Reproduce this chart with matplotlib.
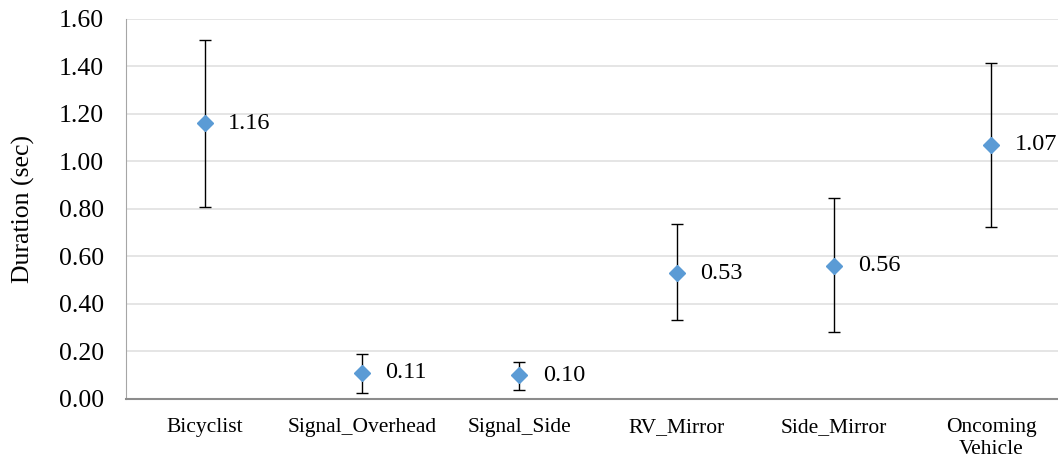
import numpy as np
import matplotlib.pyplot as plt

# Données
categories = ["Bicyclist", "Signal_Overhead", "Signal_Side", "RV_Mirror", "Side_Mirror", "Oncoming\nVehicle"]
means = [1.16, 0.11, 0.10, 0.53, 0.56, 1.07]
upper = [1.51, 0.19, 0.155, 0.735, 0.845, 1.415]
lower = [0.81, 0.025, 0.038, 0.333, 0.282, 0.724]
yticks = [0.0, 0.2, 0.4, 0.6, 0.8, 1.0, 1.2, 1.4, 1.6]

plt.rcParams['font.family'] = ['Liberation Serif', 'DejaVu Serif']

fig = plt.figure(figsize=(10.58, 4.62), dpi=100)
ax = fig.add_axes([0.119, 0.1364, 0.885, 0.8225])

x = np.arange(len(categories))
m = np.array(means)
yerr = [m - np.array(lower), np.array(upper) - m]

ax.errorbar(x, m, yerr=yerr, fmt='D', color='#5B9BD5', markersize=8,
            ecolor='black', elinewidth=1, capsize=4.5, capthick=1, zorder=3)

for xi, v in zip(x, means):
    ax.annotate(f"{v:.2f}", (xi, v), xytext=(17, 0), textcoords='offset points',
                ha='left', va='center', fontsize=17.5)

ax.set_xlim(-0.5, 5.45)
ax.set_ylim(0, 1.6)
ax.set_yticks(yticks)
ax.set_yticklabels([f"{t:.2f}" for t in yticks], fontsize=18.5)
ax.set_xticks(x)
ax.set_xticklabels(categories, fontsize=15.5, linespacing=1.15)
ax.tick_params(axis='both', length=0)
ax.tick_params(axis='x', pad=14)
ax.tick_params(axis='y', pad=16)
ax.set_ylabel("Duration (sec)", fontsize=18.5, labelpad=17)

ax.grid(axis='y', color='#E0E0E0', linewidth=1.2)
ax.set_axisbelow(True)
for s in ['top', 'right']:
    ax.spines[s].set_visible(False)
ax.spines['left'].set_color('#A6A6A6')
ax.spines['bottom'].set_color('#8C8C8C')
ax.spines['bottom'].set_linewidth(1.5)

fig.savefig("out.png", dpi=100)
